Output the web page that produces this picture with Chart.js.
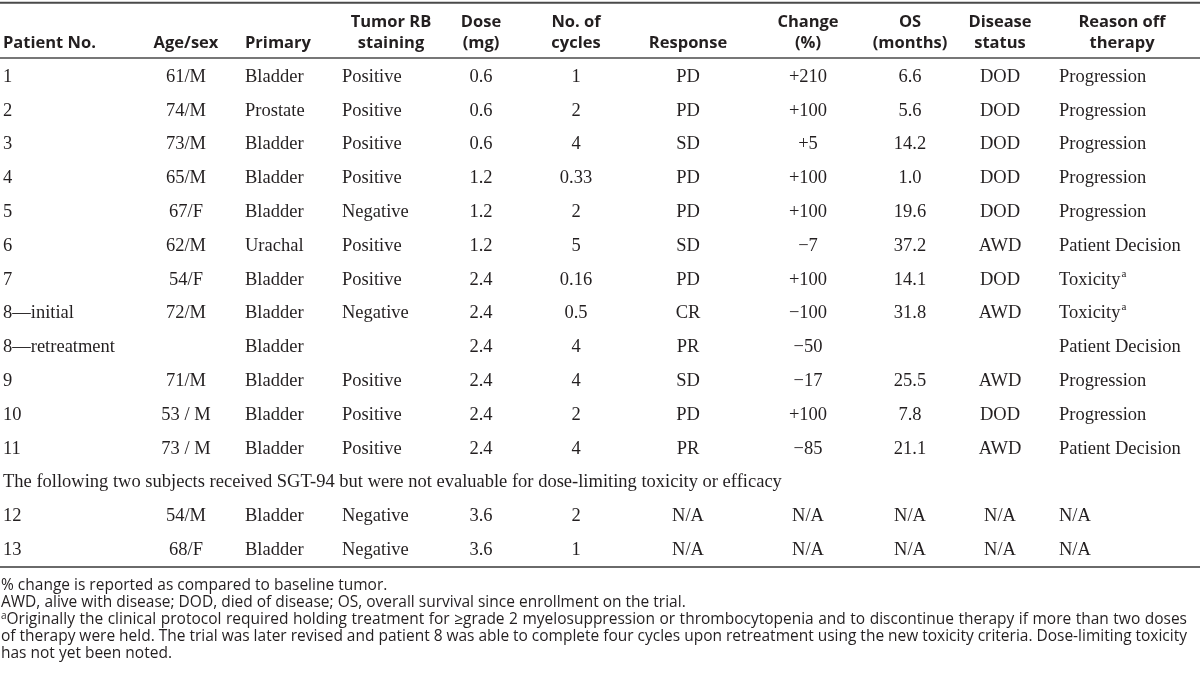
<!DOCTYPE html>
<html>
<head>
<meta charset="utf-8">
<script src="https://cdn.jsdelivr.net/npm/chart.js@4.4.1/dist/chart.umd.min.js"></script>
<style>
  html, body { margin: 0; padding: 0; background: #fff; }
  #wrap { position: relative; width: 1200px; height: 673px; }
</style>
</head>
<body>
<div id="wrap"><canvas id="trial-table"></canvas></div>
<script>
// Table data
const headers = [
  ['Patient No.'], ['Age/sex'], ['Primary'], ['Tumor RB', 'staining'], ['Dose', '(mg)'],
  ['No. of', 'cycles'], ['Response'], ['Change', '(%)'], ['OS', '(months)'],
  ['Disease', 'status'], ['Reason off', 'therapy']
];
const patientNo = ['1', '2', '3', '4', '5', '6', '7', '8—initial', '8—retreatment', '9', '10', '11', '12', '13'];
const ageSex = ['61/M', '74/M', '73/M', '65/M', '67/F', '62/M', '54/F', '72/M', '', '71/M', '53 / M', '73 / M', '54/M', '68/F'];
const primary = ['Bladder', 'Prostate', 'Bladder', 'Bladder', 'Bladder', 'Urachal', 'Bladder', 'Bladder', 'Bladder', 'Bladder', 'Bladder', 'Bladder', 'Bladder', 'Bladder'];
const rbStaining = ['Positive', 'Positive', 'Positive', 'Positive', 'Negative', 'Positive', 'Positive', 'Negative', '', 'Positive', 'Positive', 'Positive', 'Negative', 'Negative'];
const doseMg = ['0.6', '0.6', '0.6', '1.2', '1.2', '1.2', '2.4', '2.4', '2.4', '2.4', '2.4', '2.4', '3.6', '3.6'];
const cycles = ['1', '2', '4', '0.33', '2', '5', '0.16', '0.5', '4', '4', '2', '4', '2', '1'];
const response = ['PD', 'PD', 'SD', 'PD', 'PD', 'SD', 'PD', 'CR', 'PR', 'SD', 'PD', 'PR', 'N/A', 'N/A'];
const changePct = ['+210', '+100', '+5', '+100', '+100', '−7', '+100', '−100', '−50', '−17', '+100', '−85', 'N/A', 'N/A'];
const osMonths = ['6.6', '5.6', '14.2', '1.0', '19.6', '37.2', '14.1', '31.8', '', '25.5', '7.8', '21.1', 'N/A', 'N/A'];
const diseaseStatus = ['DOD', 'DOD', 'DOD', 'DOD', 'DOD', 'AWD', 'DOD', 'AWD', '', 'AWD', 'DOD', 'AWD', 'N/A', 'N/A'];
const reasonOff = ['Progression', 'Progression', 'Progression', 'Progression', 'Progression', 'Patient Decision', 'Toxicity^a', 'Toxicity^a', 'Patient Decision', 'Progression', 'Progression', 'Patient Decision', 'N/A', 'N/A'];
const noteRow = 'The following two subjects received SGT-94 but were not evaluable for dose-limiting toxicity or efficacy';
const noteBefore = 12; // note line sits above patient 12
const footnotes = [
  '% change is reported as compared to baseline tumor.',
  'AWD, alive with disease; DOD, died of disease; OS, overall survival since enrollment on the trial.',
  '^aOriginally the clinical protocol required holding treatment for ≥grade 2 myelosuppression or thrombocytopenia and to discontinue therapy if more than two doses',
  'of therapy were held. The trial was later revised and patient 8 was able to complete four cycles upon retreatment using the new toxicity criteria. Dose-limiting toxicity',
  'has not yet been noted.'
];

const columns = [patientNo, ageSex, primary, rbStaining, doseMg, cycles, response, changePct, osMonths, diseaseStatus, reasonOff];

// Layout
const INK = '#231f20';
const ROW_H = 33.8;
const FIRST_ROW_Y = 77;
const colX = [3, 186, 245, 342, 481, 576, 688, 808, 910, 1000, 1059];
const colAlign = ['left', 'center', 'left', 'left', 'center', 'center', 'center', 'center', 'center', 'center', 'left'];
const headX = [3, 186, 245, 391, 481, 576, 688, 808, 910, 1000, 1122];
const headAlign = ['left', 'center', 'left', 'center', 'center', 'center', 'center', 'center', 'center', 'center', 'center'];
const HEAD_LINES = [-1.63, -1.0];
const RULES = [{ at: -2.2, w: 2, c: '#4a4a4a' }, { at: -0.56, w: 1.5, c: '#4a4a4a' }, { at: 14.5, w: 2, c: '#6a6a6a' }];
const FOOT_START = 15.05, FOOT_STEP = 0.503;
const FONT_CELL = '18.5px "Liberation Serif"';
const FONT_SUP = '11px "Liberation Serif"';
const FONT_HEAD = 'bold 16.5px "Open Sans"';
const FONT_FOOT = '15.5px "Open Sans"';
const FONT_FOOT_SUP = '10px "Open Sans"';

const rowIndex = i => (i < noteBefore ? i : i + 1);

function drawRich(ctx, text, x, y, align, font, supFont) {
  const parts = text.split('^');
  let main = parts[0], sup = '', lead = '';
  if (parts.length > 1) {
    if (main === '') { lead = parts[1].charAt(0); main = parts[1].slice(1); }
    else { sup = parts[1]; }
  }
  ctx.font = supFont;
  const wLead = lead ? ctx.measureText(lead).width : 0;
  const wSup = sup ? ctx.measureText(sup).width : 0;
  ctx.font = font;
  const wMain = ctx.measureText(main).width;
  const total = wLead + wMain + wSup;
  let left = x;
  if (align === 'center') left = x - total / 2;
  else if (align === 'right') left = x - total;
  ctx.textAlign = 'left';
  if (lead) {
    ctx.font = supFont;
    ctx.fillText(lead, left, y - 5);
  }
  ctx.font = font;
  ctx.fillText(main, left + wLead, y);
  if (sup) {
    ctx.font = supFont;
    ctx.fillText(sup, left + wLead + wMain + 1, y - 6);
  }
}

function drawJustified(ctx, text, x, y, width) {
  let lead = '';
  if (text.startsWith('^')) { lead = text.charAt(1); text = text.slice(2); }
  ctx.font = FONT_FOOT_SUP;
  const wLead = lead ? ctx.measureText(lead).width : 0;
  if (lead) ctx.fillText(lead, x, y - 4);
  ctx.font = FONT_FOOT;
  const words = text.split(' ');
  const wordsW = words.reduce((s, w) => s + ctx.measureText(w).width, 0);
  const gap = (width - wLead - wordsW) / (words.length - 1);
  let cx = x + wLead;
  words.forEach(w => {
    ctx.fillText(w, cx, y);
    cx += ctx.measureText(w).width + gap;
  });
}

const tablePlugin = {
  id: 'tableText',
  afterDatasetsDraw(chart) {
    const ctx = chart.ctx;
    const xs = chart.scales.x, ys = chart.scales.y;
    ctx.save();
    ctx.fillStyle = INK;
    ctx.textBaseline = 'middle';

    RULES.forEach(r => {
      const y = ys.getPixelForValue(r.at);
      ctx.strokeStyle = r.c;
      ctx.lineWidth = r.w;
      ctx.beginPath();
      ctx.moveTo(xs.getPixelForValue(0), y);
      ctx.lineTo(xs.getPixelForValue(1200), y);
      ctx.stroke();
    });

    headers.forEach((lines, c) => {
      const first = HEAD_LINES.length - lines.length;
      lines.forEach((t, k) => {
        drawRich(ctx, t, xs.getPixelForValue(headX[c]), ys.getPixelForValue(HEAD_LINES[first + k]), headAlign[c], FONT_HEAD, FONT_HEAD);
      });
    });

    chart.data.datasets.forEach((ds, c) => {
      chart.getDatasetMeta(c).data.forEach((pt, i) => {
        const t = ds.cells[i];
        if (t) drawRich(ctx, t, pt.x, pt.y, colAlign[c], FONT_CELL, FONT_SUP);
      });
    });

    ctx.font = FONT_CELL;
    ctx.textAlign = 'left';
    ctx.fillText(noteRow, xs.getPixelForValue(colX[0]), ys.getPixelForValue(noteBefore));

    ctx.textAlign = 'left';
    footnotes.forEach((t, k) => {
      const y = ys.getPixelForValue(FOOT_START + k * FOOT_STEP);
      const x = xs.getPixelForValue(1);
      if (k === 2 || k === 3) drawJustified(ctx, t, x, y, 1186);
      else drawRich(ctx, t, x, y, 'left', FONT_FOOT, FONT_FOOT_SUP);
    });
    ctx.restore();
  }
};

new Chart(document.getElementById('trial-table'), {
  type: 'scatter',
  data: {
    datasets: columns.map((col, c) => ({
      label: headers[c].join(' '),
      cells: col,
      data: col.map((_, i) => ({ x: colX[c], y: rowIndex(i) })),
      pointRadius: 0,
      pointHoverRadius: 0
    }))
  },
  options: {
    responsive: true,
    maintainAspectRatio: false,
    animation: false,
    events: [],
    layout: { padding: 0 },
    plugins: { legend: { display: false }, tooltip: { enabled: false } },
    scales: {
      x: { type: 'linear', display: false, min: 0, max: 1200 },
      y: { type: 'linear', display: false, reverse: true, min: -FIRST_ROW_Y / ROW_H, max: (673 - FIRST_ROW_Y) / ROW_H }
    }
  },
  plugins: [tablePlugin]
});
</script>
</body>
</html>
